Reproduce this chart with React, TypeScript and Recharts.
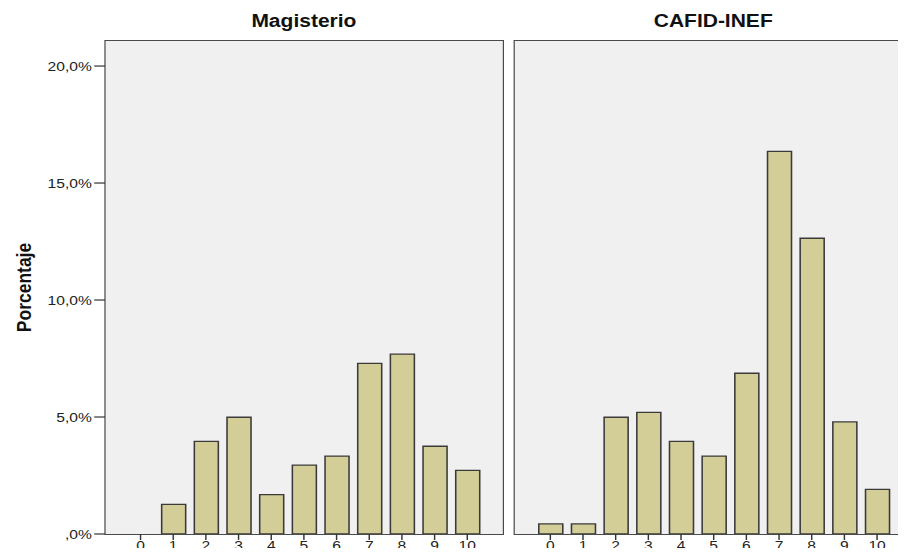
import { Bar, BarChart, XAxis, YAxis } from "recharts";

// puntuaciones 0..10 y porcentaje por titulación
const scores = ["0", "1", "2", "3", "4", "5", "6", "7", "8", "9", "10"];
const magisterio = [0, 1.27, 3.96, 4.99, 1.68, 2.94, 3.33, 7.29, 7.69, 3.75, 2.72];
const cafidInef = [0.43, 0.43, 4.99, 5.2, 3.96, 3.33, 6.87, 16.35, 12.64, 4.79, 1.91];
const yTicks = [0, 5, 10, 15, 20];

const Y_MAX = 21.07;
// the source picture is stretched sideways, so the charts are drawn narrower and scaled
const STRETCH = 1.2;
const FONT = "'Liberation Sans', Arial, sans-serif";
const PLOT_W = 331.5;
const PLOT_TOP = 41;
const PLOT_H = 493;
const Y_W = 87.5;

const magData = scores.map((s, i) => ({ score: s, pct: magisterio[i] }));
const cafData = scores.map((s, i) => ({ score: s, pct: cafidInef[i] }));

function fmtPct(v: number) {
  if (v === 0) return ",0%";
  return v.toFixed(1).replace(".", ",") + "%";
}

function Panel({
  title,
  data,
  showY,
  left,
}: {
  title: string;
  data: { score: string; pct: number }[];
  showY: boolean;
  left: number;
}) {
  const yWidth = showY ? Y_W : 0;
  return (
    <div style={{ position: "absolute", left, top: 0 }}>
      {/* panel background and frame */}
      <div
        style={{
          position: "absolute",
          left: yWidth - 0.65,
          top: PLOT_TOP - 0.65,
          width: PLOT_W,
          height: PLOT_H,
          background: "#f0f0f0",
          border: "1.3px solid #4a4a4a",
        }}
      />
      <div
        style={{
          position: "absolute",
          left: yWidth,
          top: 11,
          width: PLOT_W,
          textAlign: "center",
          fontFamily: FONT,
          fontWeight: "bold",
          fontSize: 17.5,
          lineHeight: "20px",
          color: "#111",
        }}
      >
        {title}
      </div>
      <div style={{ position: "absolute", left: 0, top: 0 }}>
        <BarChart
          width={PLOT_W + yWidth}
          height={556}
          data={data}
          margin={{ top: PLOT_TOP, right: 0, bottom: 0, left: 0 }}
          barSize={20}
          style={{ overflow: "visible" }}
        >
          <XAxis
            dataKey="score"
            height={22}
            padding={{ left: 16, right: 16 }}
            axisLine={false}
            tickSize={6}
            tickMargin={1}
            tickLine={{ stroke: "#333", strokeWidth: 1.2 }}
            tick={{ fill: "#222", fontSize: 13, fontFamily: FONT }}
            interval={0}
          />
          <YAxis
            hide={!showY}
            width={yWidth}
            domain={[0, Y_MAX]}
            ticks={yTicks}
            allowDataOverflow
            axisLine={false}
            tickSize={9}
            tickMargin={2}
            tickLine={{ stroke: "#333", strokeWidth: 1.2 }}
            tick={{ fill: "#222", fontSize: 13, fontFamily: FONT }}
            tickFormatter={fmtPct}
            label={
              showY
                ? {
                    value: "Porcentaje",
                    angle: -90,
                    position: "insideLeft",
                    offset: 20,
                    fill: "#111",
                    fontSize: 17.5,
                    fontWeight: "bold",
                    fontFamily: FONT,
                    style: { textAnchor: "middle" },
                  }
                : undefined
            }
          />
          <Bar
            dataKey="pct"
            fill="#d3ce97"
            stroke="#3a3a3a"
            strokeWidth={1.3}
            isAnimationActive={false}
          />
        </BarChart>
      </div>
    </div>
  );
}

export default function App() {
  return (
    <div
      style={{
        width: 906,
        height: 556,
        margin: -8,
        overflow: "hidden",
        background: "#fff",
        position: "relative",
      }}
    >
      <div
        style={{
          position: "absolute",
          left: 0,
          top: 0,
          width: 770,
          height: 556,
          transform: `scaleX(${STRETCH})`,
          transformOrigin: "0 0",
        }}
      >
        <Panel title="Magisterio" data={magData} showY left={0} />
        <Panel title="CAFID-INEF" data={cafData} showY={false} left={428.6} />
      </div>
    </div>
  );
}
